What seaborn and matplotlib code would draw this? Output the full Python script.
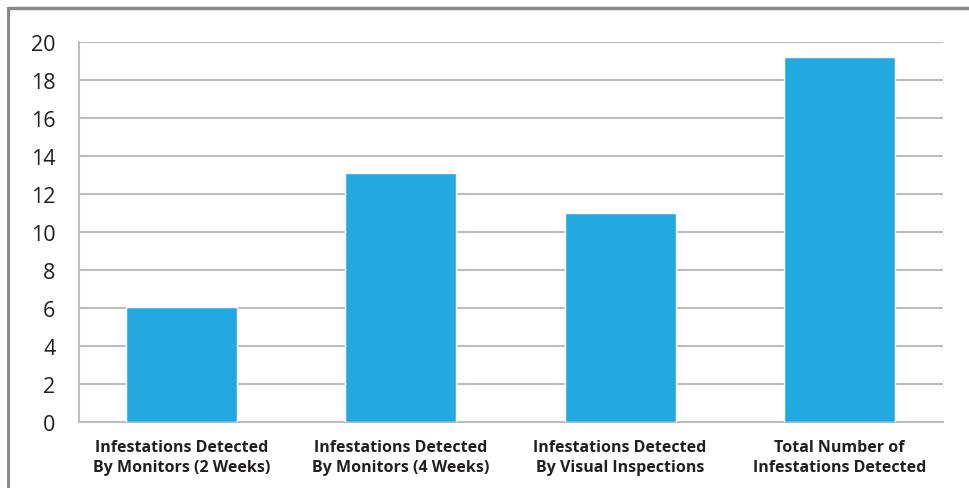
import matplotlib
matplotlib.use("Agg")
import matplotlib.pyplot as plt
import seaborn as sns
import pandas as pd
from matplotlib.lines import Line2D

categories = [
    "Infestations Detected\nBy Monitors (2 Weeks)",
    "Infestations Detected\nBy Monitors (4 Weeks)",
    "Infestations Detected\nBy Visual Inspections",
    "Total Number of\nInfestations Detected",
]
counts = [6.05, 13.1, 11.0, 19.2]
y_ticks = [0, 2, 4, 6, 8, 10, 12, 14, 16, 18, 20]

df = pd.DataFrame({"cat": categories, "n": counts})

sns.set_style("white")
plt.rcParams["font.family"] = ["Open Sans", "DejaVu Sans"]

grid_col = "#bcbcc0"
text_col = "#231f20"
W, H = 969, 489

fig = plt.figure(figsize=(W / 100, H / 100), dpi=100)
ax = fig.add_axes([79 / W, 66 / H, 864 / W, 380 / H])

sns.barplot(data=df, x="cat", y="n", color="#23a8df", width=0.506,
            saturation=1, ax=ax, zorder=3)

ax.set_xlim(-0.467, 3.472)
ax.set_ylim(0, 20)
ax.set_yticks(y_ticks)
ax.set_yticklabels([str(t) for t in y_ticks], fontsize=15.5, color=text_col)
ax.set_xticks(range(4))
ax.set_xticklabels(categories, fontsize=11.5, fontweight="bold",
                   color=text_col, linespacing=1.4)
ax.set_xticks([-0.467, 0.5, 1.5, 2.5], minor=True)

ax.tick_params(axis="y", length=6, width=1.5, color=grid_col, pad=11)
ax.tick_params(axis="x", which="major", length=0, pad=12)
ax.tick_params(axis="x", which="minor", length=7, width=1.2, color=grid_col)

ax.grid(axis="y", color=grid_col, linewidth=1.5, zorder=0)
ax.set_axisbelow(True)
for s in ["top", "right"]:
    ax.spines[s].set_visible(False)
for s in ["left", "bottom"]:
    ax.spines[s].set_color(grid_col)
    ax.spines[s].set_linewidth(1.5)
ax.set_xlabel("")
ax.set_ylabel("")

# outer frame (top and left edges visible)
fig.add_artist(Line2D([8 / W, 1.0], [1 - 8.5 / H, 1 - 8.5 / H],
                      transform=fig.transFigure, color="#8a8a8a", linewidth=2.5))
fig.add_artist(Line2D([8.3 / W, 8.3 / W], [0, 1 - 8.5 / H],
                      transform=fig.transFigure, color="#8a8a8a", linewidth=2.2))

fig.savefig("out.png", dpi=100)
